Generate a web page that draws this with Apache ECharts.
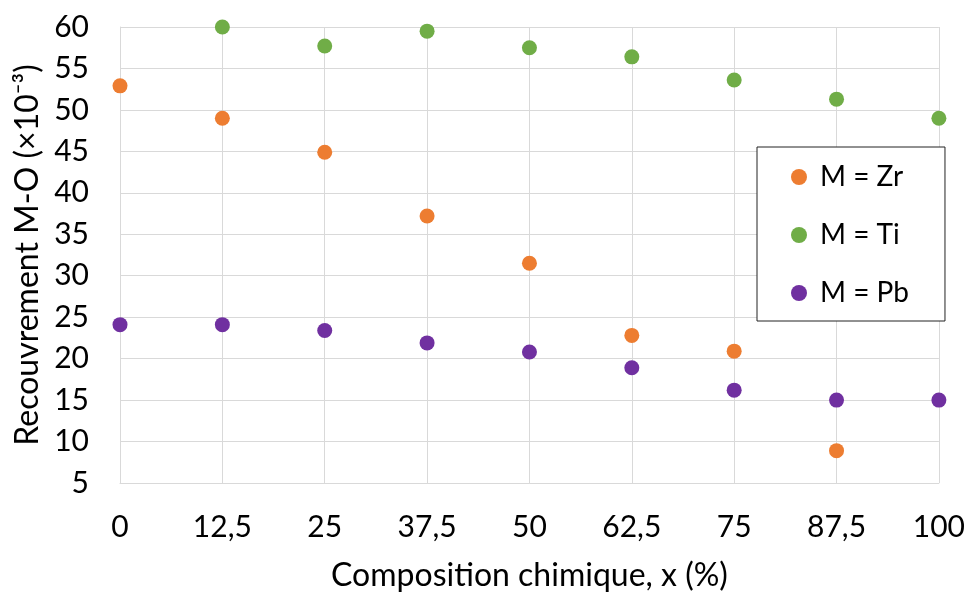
<!DOCTYPE html>
<html>
<head>
<meta charset="utf-8">
<script src="https://cdn.jsdelivr.net/npm/echarts@6/dist/echarts.min.js"></script>
<style>
html,body{margin:0;padding:0;background:#fff;}
#chart{width:968px;height:597px;}
</style>
</head>
<body>
<div id="chart"></div>
<script>
const categories = ['0', '12,5', '25', '37,5', '50', '62,5', '75', '87,5', '100'];
const zrValues = [52.9, 49.0, 44.9, 37.2, 31.5, 22.8, 20.9, 8.9, null];
const tiValues = [null, 60.0, 57.7, 59.5, 57.5, 56.4, 53.6, 51.3, 49.0];
const pbValues = [24.1, 24.1, 23.4, 21.9, 20.8, 18.9, 16.2, 15.0, 15.0];
const seriesNames = ['M = Zr', 'M = Ti', 'M = Pb'];
const seriesColors = ['#ED7D31', '#70AD47', '#7030A0'];
const xAxisTitle = 'Composition chimique, x (%)';
const yAxisTitle = 'Recouvrement M-O (×10⁻³)';

const FONT = 'Lato';
const chart = echarts.init(document.getElementById('chart'));
const dataSets = [zrValues, tiValues, pbValues];

chart.setOption({
  animation: false,
  backgroundColor: '#fff',
  textStyle: { fontFamily: FONT, color: '#000' },
  grid: { left: 120, right: 26, top: 27, bottom: 113 },
  legend: {
    orient: 'vertical',
    left: 757,
    top: 147,
    data: seriesNames,
    icon: 'circle',
    itemWidth: 16,
    itemHeight: 16,
    itemGap: 28,
    padding: [15, 36, 13, 34],
    borderColor: '#222',
    borderWidth: 1,
    backgroundColor: '#fff',
    textStyle: { fontFamily: FONT, fontSize: 28, color: '#000', lineHeight: 30, padding: [0, 0, 0, 8] }
  },
  xAxis: {
    type: 'category',
    data: categories,
    boundaryGap: false,
    name: xAxisTitle,
    nameLocation: 'middle',
    nameGap: 77,
    nameTextStyle: { fontFamily: FONT, fontSize: 32, color: '#000' },
    axisLine: { lineStyle: { color: '#d9d9d9', width: 1 } },
    axisTick: { show: false },
    axisLabel: { margin: 29, fontFamily: FONT, fontSize: 30, color: '#000' },
    splitLine: { show: true, lineStyle: { color: '#d9d9d9', width: 1 } }
  },
  yAxis: {
    type: 'value',
    min: 5,
    max: 60,
    interval: 5,
    name: yAxisTitle,
    nameLocation: 'middle',
    nameGap: 76,
    nameTextStyle: { fontFamily: FONT, fontSize: 32, color: '#000' },
    axisLine: { show: true, lineStyle: { color: '#d9d9d9', width: 1 } },
    axisTick: { show: false },
    axisLabel: { margin: 31, fontFamily: FONT, fontSize: 30, color: '#000' },
    splitLine: { show: true, lineStyle: { color: '#d9d9d9', width: 1 } }
  },
  series: seriesNames.map((n, i) => ({
    name: n,
    type: 'scatter',
    data: dataSets[i],
    symbol: 'circle',
    symbolSize: 15,
    itemStyle: { color: seriesColors[i], opacity: 1 }
  }))
});
</script>
</body>
</html>
